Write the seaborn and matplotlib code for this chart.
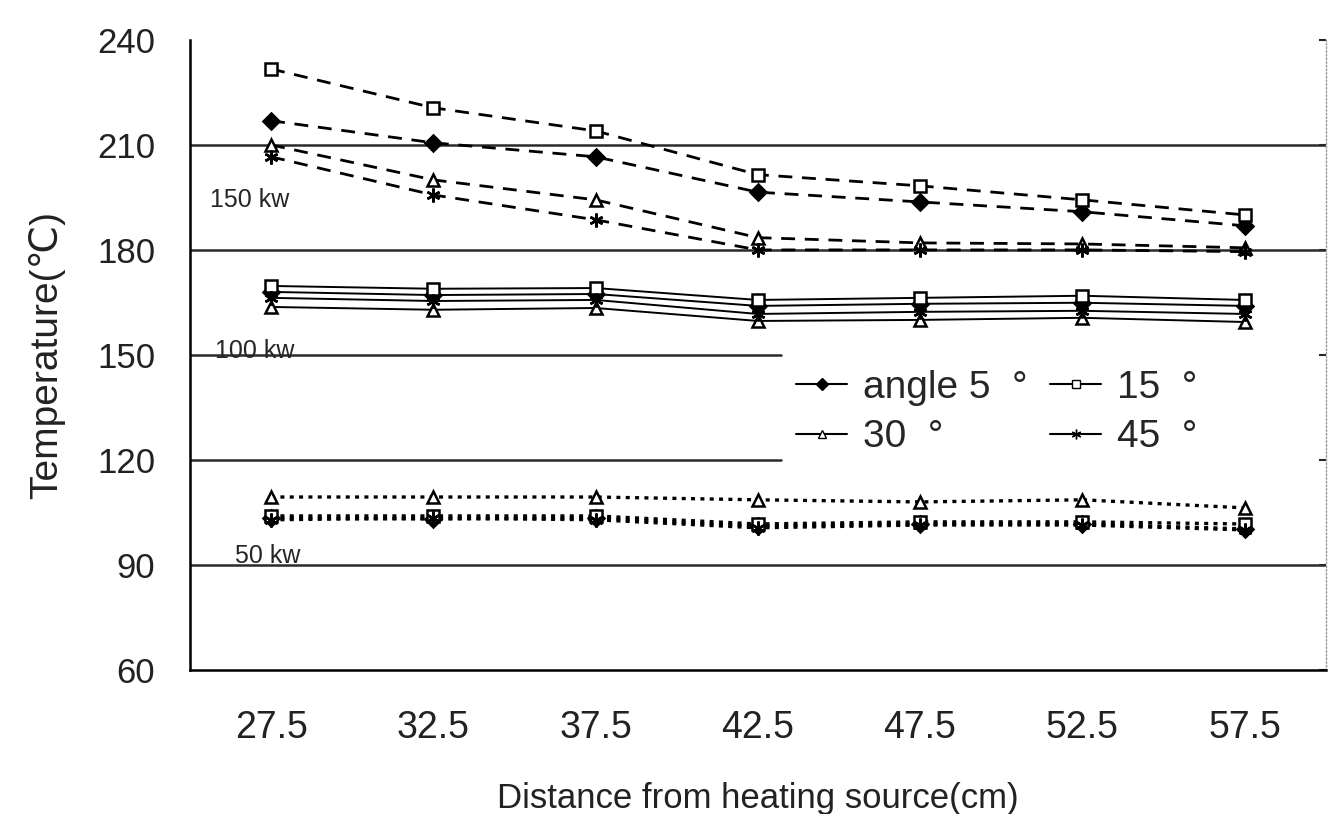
import matplotlib
matplotlib.use("Agg")
import matplotlib.pyplot as plt
from matplotlib.lines import Line2D
import numpy as np
import pandas as pd
import seaborn as sns

# distance from heating source (cm)
distance = [27.5, 32.5, 37.5, 42.5, 47.5, 52.5, 57.5]
angles = ["5", "15", "30", "45"]
powers = ["150 kw", "100 kw", "50 kw"]

# 150 kw
t150_5 = [216.9, 210.6, 206.6, 196.5, 193.7, 190.9, 186.9]
t150_15 = [231.7, 220.6, 214.0, 201.5, 198.3, 194.3, 190.0]
t150_30 = [210.0, 200.0, 194.3, 183.5, 182.0, 181.7, 180.6]
t150_45 = [206.6, 195.7, 188.6, 180.0, 180.0, 180.0, 179.5]
# 100 kw
t100_5 = [168.0, 167.1, 167.4, 164.0, 164.6, 164.9, 164.0]
t100_15 = [169.7, 168.9, 169.1, 165.7, 166.3, 166.9, 165.7]
t100_30 = [163.7, 162.9, 163.4, 159.7, 160.0, 160.6, 159.4]
t100_45 = [166.3, 165.4, 165.7, 161.7, 162.3, 162.6, 161.7]
# 50 kw
t50_5 = [103.4, 103.1, 103.4, 101.1, 101.7, 101.7, 100.3]
t50_15 = [104.0, 104.0, 104.0, 101.7, 102.3, 102.3, 101.7]
t50_30 = [109.4, 109.4, 109.4, 108.6, 108.0, 108.6, 106.3]
t50_45 = [102.9, 103.4, 102.9, 100.6, 101.4, 101.4, 100.0]

series = {
    ("150 kw", "5"): t150_5, ("150 kw", "15"): t150_15,
    ("150 kw", "30"): t150_30, ("150 kw", "45"): t150_45,
    ("100 kw", "5"): t100_5, ("100 kw", "15"): t100_15,
    ("100 kw", "30"): t100_30, ("100 kw", "45"): t100_45,
    ("50 kw", "5"): t50_5, ("50 kw", "15"): t50_15,
    ("50 kw", "30"): t50_30, ("50 kw", "45"): t50_45,
}
rows = []
for (p, a), vals in series.items():
    for d, v in zip(distance, vals):
        rows.append({"power": p, "angle": a, "distance": d, "temp": v})
df = pd.DataFrame(rows)

sns.set_style("white")
plt.rcParams["font.family"] = ["Liberation Sans", "DejaVu Sans"]

markers = {"5": "D", "15": "s", "30": "^", "45": (6, 2, 0)}
faces = {"5": "black", "15": "white", "30": "white", "45": "black"}
msize = {"5": 8, "15": 9, "30": 9, "45": 10}
line_styles = {"150 kw": (0, (5, 3.5)), "100 kw": "-", "50 kw": (0, (1.2, 1.6))}
line_widths = {"150 kw": 2.0, "100 kw": 1.4, "50 kw": 2.4}

fig = plt.figure(figsize=(13.33, 8.14), dpi=100)
ax = fig.add_axes([0.1425, 0.177, 0.852, 0.774])

# horizontal reference lines
for y, xmax in [(210, 1), (180, 1), (150, 0.52), (120, 0.52), (90, 1)]:
    ax.axhline(y, xmin=0, xmax=xmax, color="#2a2a2a", lw=1.8, zorder=1)

for p in powers:
    for a in angles:
        sub = df[(df["power"] == p) & (df["angle"] == a)]
        sns.lineplot(data=sub, x="distance", y="temp", ax=ax, color="black",
                     linestyle=line_styles[p], lw=line_widths[p],
                     marker=markers[a], markersize=msize[a],
                     markerfacecolor=faces[a], markeredgecolor="black",
                     markeredgewidth=1.8, zorder=3)

ax.text(25.62, 194.3, "150 kw", fontsize=18, va="center", ha="left")
ax.text(25.77, 151.2, "100 kw", fontsize=18, va="center", ha="left")
ax.text(26.4, 92.6, "50 kw", fontsize=18, va="center", ha="left")

ax.set_xlim(25, 60)
ax.set_ylim(60, 240)
ax.set_yticks([60, 90, 120, 150, 180, 210, 240])
ax.set_xticks([30, 35, 40, 45, 50, 55, 60])
ax.set_xticklabels([])
ax.set_xticks(distance, minor=True)
ax.set_xticklabels([f"{d}" for d in distance], minor=True)
ax.tick_params(axis="x", which="major", direction="in", length=9, width=1.8,
               color="black")
ax.tick_params(axis="x", which="minor", length=0, pad=29, labelsize=27,
               labelcolor="#222222")
ax.tick_params(axis="y", which="major", direction="in", length=5, width=1.5,
               labelsize=25, pad=25, labelcolor="#222222",
               right=True)

ax.set_xlabel("Distance from heating source(cm)", fontsize=25, labelpad=26,
              color="#222222")
ax.set_ylabel("Temperature(℃)", fontsize=28, labelpad=23, color="#222222")

for side in ["left", "bottom"]:
    ax.spines[side].set_color("black")
    ax.spines[side].set_linewidth(1.8)
ax.spines["top"].set_visible(False)
ax.spines["right"].set_color("#9a9a9a")
ax.spines["right"].set_linewidth(1.0)
ax.spines["right"].set_linestyle(":")

handles = [
    Line2D([], [], color="black", lw=1.5, marker="D", markersize=6,
           markerfacecolor="black", markeredgecolor="black"),
    Line2D([], [], color="black", lw=1.5, marker="^", markersize=6,
           markerfacecolor="white", markeredgecolor="black"),
    Line2D([], [], color="black", lw=1.5, marker="s", markersize=6,
           markerfacecolor="white", markeredgecolor="black"),
    Line2D([], [], color="black", lw=1.5, marker=(6, 2, 0), markersize=7,
           markeredgecolor="black"),
]
labels = ["angle 5  °", "30  °", "15  °", "45  °"]
ax.legend(handles, labels, ncol=2, loc="upper left",
          bbox_to_anchor=(0.51, 0.52), frameon=False, fontsize=28,
          handlelength=1.3, handletextpad=0.4, columnspacing=0.6,
          labelspacing=0.35, borderpad=0.2)

fig.savefig("out.png", dpi=100)
